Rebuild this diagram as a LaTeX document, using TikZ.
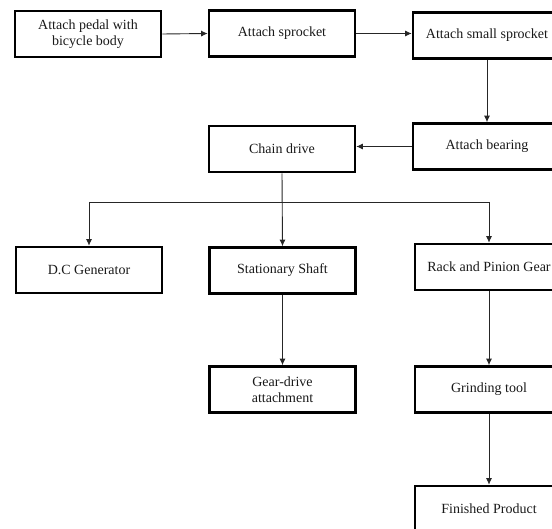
\documentclass[tikz,border=0pt]{standalone}
\usepackage{fontspec}
\setmainfont{Liberation Serif}
\usetikzlibrary{arrows.meta}
\begin{document}
\begin{tikzpicture}[x=1pt,y=-1pt,
  box/.style={draw=black,line width=2.6pt,rectangle,minimum width=146pt,minimum height=46pt,
    inner sep=0pt,align=center,font=\fontsize{14}{16.5}\selectfont,text=black!90},
  conn/.style={draw=black!85,line width=0.9pt},
  arr/.style={conn,-{Latex[length=6.5pt,width=6pt]}}]
\useasboundingbox (0,0) rectangle (552,529);
\node[box] (b1) at (88,34) {Attach pedal with\\bicycle body};
\node[box] (b2) at (282,33.5) {Attach sprocket};
\node[box,minimum width=148pt] (b3) at (487,35.5) {Attach small sprocket};
\node[box,minimum width=148pt] (bear) at (487,146.5) {Attach bearing};
\node[box] (chain) at (282,149) {Chain drive};
\node[box] (dc) at (89,270) {D.C Generator};
\node[box] (shaft) at (282.5,270.5) {Stationary Shaft};
\node[box,minimum width=148pt] (rack) at (489,267) {Rack and Pinion Gear};
\node[box] (gear) at (282.5,389.5) {Gear-drive\\attachment};
\node[box,minimum width=148pt] (grind) at (489,389.5) {Grinding tool};
\node[box,minimum width=148pt] (fin) at (489,509) {Finished Product};
\coordinate (split) at (282,202);
\draw[arr] (b1.east) -- (b2.west);
\draw[arr] (b2.east) -- (b2.east -| b3.west);
\draw[arr] (b3.south) -- (bear.north);
\draw[arr] (bear.west) -- (bear.west -| chain.east);
\draw[arr] (chain.south) -- (shaft.north);
\draw[conn] (split -| dc.north) -- (split -| rack.north);
\draw[arr] (split -| dc.north) -- (dc.north);
\draw[arr] (split -| rack.north) -- (rack.north);
\draw[arr] (shaft.south) -- (gear.north);
\draw[arr] (rack.south) -- (grind.north);
\draw[arr] (grind.south) -- (fin.north);
\end{tikzpicture}
\end{document}
